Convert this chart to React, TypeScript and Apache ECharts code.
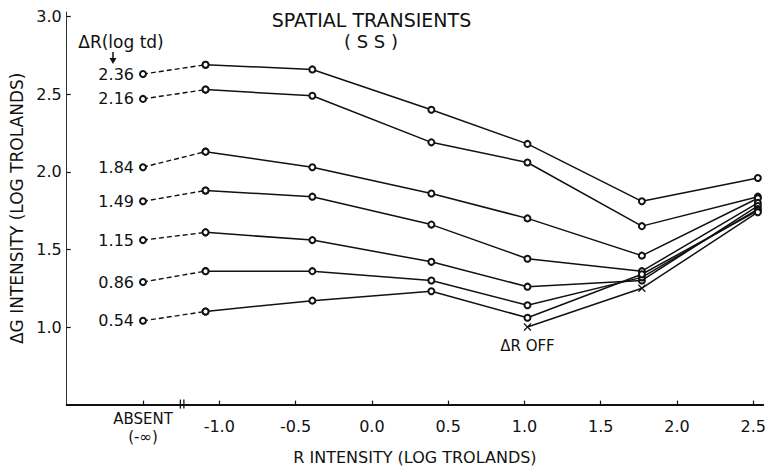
import { useEffect, useRef } from "react";
import * as echarts from "echarts";

const FONT = '"DejaVu Sans", "Liberation Sans", sans-serif';
const INK = "#111";

// R intensity (log trolands) of the measured points
const rIntensity = [-1.09, -0.39, 0.39, 1.02, 1.77, 2.53];
// position of the "ABSENT (-inf)" condition on the x axis
const absentX = -1.5;
// ΔR levels (log td)
const deltaRLabels = ["2.36", "2.16", "1.84", "1.49", "1.15", "0.86", "0.54"];
// ΔG threshold with R absent
const absentValues = [2.63, 2.47, 2.03, 1.81, 1.56, 1.29, 1.04];
// ΔG thresholds for each ΔR level
const s236 = [2.69, 2.66, 2.4, 2.18, 1.81, 1.96];
const s216 = [2.53, 2.49, 2.19, 2.06, 1.65, 1.84];
const s184 = [2.13, 2.03, 1.86, 1.7, 1.46, 1.83];
const s149 = [1.88, 1.84, 1.66, 1.44, 1.36, 1.8];
const s115 = [1.61, 1.56, 1.42, 1.26, 1.3, 1.78];
const s086 = [1.36, 1.36, 1.3, 1.14, 1.32, 1.76];
const s054 = [1.1, 1.17, 1.23, 1.06, 1.34, 1.75];
// ΔR off
const offX = [1.02, 1.77, 2.53];
const offValues = [1.0, 1.25, 1.74];

const xTicks = [-1.5, -1.0, -0.5, 0, 0.5, 1.0, 1.5, 2.0, 2.5];
const yTicks = [1.0, 1.5, 2.0, 2.5, 3.0];
const breakX = [-1.255, -1.232];

const levels = [s236, s216, s184, s149, s115, s086, s054];

export default function App() {
  const ref = useRef<HTMLDivElement>(null);
  useEffect(() => {
    if (!ref.current) return;
    const chart = echarts.init(ref.current, null, { renderer: "svg" });
    const series: any[] = [];
    levels.forEach((vals, i) => {
      series.push({
        type: "line",
        data: [
          {
            value: [absentX, absentValues[i]],
            label: {
              show: true,
              position: "left",
              distance: 5,
              formatter: deltaRLabels[i],
              fontFamily: FONT,
              fontSize: 16,
              color: INK,
            },
          },
          [rIntensity[0], vals[0]],
        ],
        symbol: "emptyCircle",
        symbolSize: 6,
        itemStyle: { color: INK, borderColor: INK, borderWidth: 1.2 },
        lineStyle: { color: INK, width: 1.4, type: [5, 3] },
        z: 3,
      });
      series.push({
        type: "line",
        data: rIntensity.map((x, j) => [x, vals[j]]),
        symbol: "emptyCircle",
        symbolSize: 6,
        itemStyle: { color: INK, borderColor: INK, borderWidth: 1.2 },
        lineStyle: { color: INK, width: 1.5 },
        z: 3,
      });
    });
    const cross = "path://M0,0L10,10M10,0L0,10";
    series.push({
      type: "line",
      data: offX.map((x, j) => ({
        value: [x, offValues[j]],
        symbol: j < 2 ? cross : "emptyCircle",
        symbolSize: j < 2 ? 7 : 6,
        label:
          j === 0
            ? {
                show: true,
                position: "bottom",
                distance: 7,
                formatter: "ΔR OFF",
                fontFamily: FONT,
                fontSize: 15,
                color: INK,
              }
            : undefined,
      })),
      itemStyle: { color: INK, borderColor: INK, borderWidth: 1.2 },
      lineStyle: { color: INK, width: 1.5 },
      z: 3,
    });

    chart.setOption({
      animation: false,
      backgroundColor: "#fff",
      grid: { left: 66.7, right: 0, top: 12, bottom: 61.7, containLabel: false },
      xAxis: {
        type: "value",
        min: -2.0,
        max: 2.565,
        interval: 0.5,
        splitLine: { show: false },
        axisLine: { onZero: false, lineStyle: { color: INK, width: 2 } },
        axisTick: {
          inside: true,
          length: 4,
          customValues: xTicks,
          lineStyle: { color: INK, width: 1.2 },
        },
        axisLabel: {
          customValues: xTicks,
          margin: 5,
          formatter: (v: number) =>
            v === absentX ? "{a|ABSENT}\n{a|(-∞)}" : "{n|" + v.toFixed(1) + "}",
          rich: {
            a: { fontFamily: FONT, fontSize: 15, lineHeight: 18, color: INK },
            n: { fontFamily: FONT, fontSize: 16, lineHeight: 33, color: INK },
          },
        },
        name: "R INTENSITY (LOG TROLANDS)",
        nameLocation: "middle",
        nameGap: 42,
        nameTextStyle: { fontFamily: FONT, fontSize: 16, color: INK },
      },
      yAxis: {
        type: "value",
        min: 0.5,
        max: 3.03,
        interval: 0.5,
        splitLine: { show: false },
        axisLine: { show: true, onZero: false, lineStyle: { color: "#333", width: 1 } },
        axisTick: {
          inside: true,
          length: 4,
          customValues: yTicks,
          lineStyle: { color: INK, width: 1.2 },
        },
        axisLabel: {
          customValues: yTicks,
          margin: 5,
          fontFamily: FONT,
          fontSize: 16,
          color: INK,
          formatter: (v: number) => v.toFixed(1),
        },
        name: "ΔG INTENSITY (LOG TROLANDS)",
        nameLocation: "middle",
        nameGap: 28,
        nameTextStyle: { fontFamily: FONT, fontSize: 17, color: INK },
      },
      series,
      graphic: [
        {
          type: "text",
          x: 371.5,
          y: 19.5,
          style: {
            text: "SPATIAL TRANSIENTS",
            fontFamily: FONT,
            fontSize: 19,
            fill: INK,
            align: "center",
            verticalAlign: "middle",
          },
        },
        {
          type: "text",
          x: 371,
          y: 41.5,
          style: {
            text: "( S S )",
            fontFamily: FONT,
            fontSize: 18,
            fill: INK,
            align: "center",
            verticalAlign: "middle",
          },
        },
        {
          type: "text",
          x: 121,
          y: 42,
          style: {
            text: "ΔR(log td)",
            fontFamily: FONT,
            fontSize: 17,
            fill: INK,
            align: "center",
            verticalAlign: "middle",
          },
        },
        {
          type: "line",
          shape: { x1: 113, y1: 52, x2: 113, y2: 60 },
          style: { stroke: INK, lineWidth: 1.5 },
        },
        {
          type: "polygon",
          shape: { points: [[109.5, 58], [116.5, 58], [113, 64]] },
          style: { fill: INK },
        },
      ],
    });

    const breaks = breakX.map((bx) => {
      const p = chart.convertToPixel({ xAxisIndex: 0, yAxisIndex: 0 }, [bx, 0.5]) as number[];
      return {
        type: "line",
        shape: { x1: p[0], y1: p[1] - 5, x2: p[0], y2: p[1] + 4 },
        style: { stroke: INK, lineWidth: 1.3 },
        z: 10,
      };
    });
    const opt: any = chart.getOption();
    chart.setOption({ graphic: [...(opt.graphic?.[0]?.elements || []), ...breaks] });

    return () => chart.dispose();
  }, []);
  return (
    <div
      ref={ref}
      style={{ position: "fixed", left: 0, top: 0, width: 769, height: 470, background: "#fff" }}
    />
  );
}
